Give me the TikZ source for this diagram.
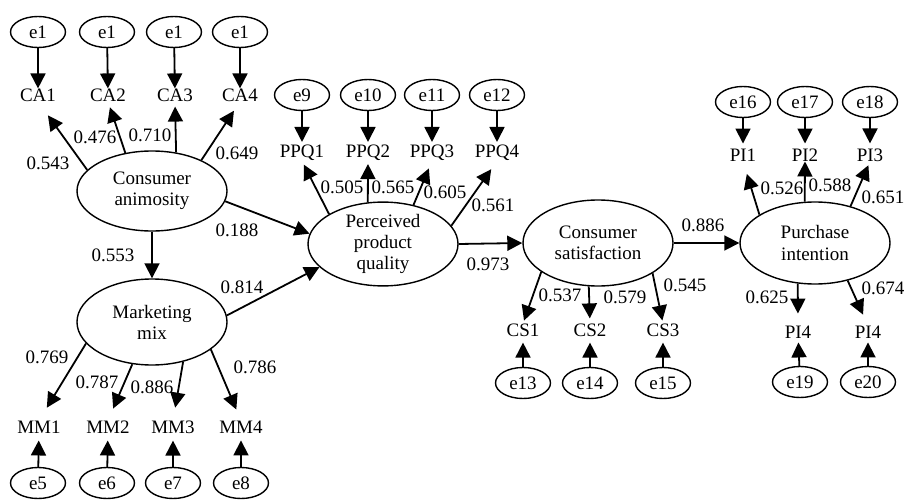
\documentclass[tikz,border=0pt]{standalone}
\usepackage{fontspec}
\setmainfont{Liberation Serif}
\usetikzlibrary{shapes.geometric,arrows.meta}
\begin{document}
\begin{tikzpicture}[x=1pt,y=-1pt,
  font=\fontsize{19}{21}\selectfont,
  lat/.style={ellipse,draw,line width=1.4pt,minimum width=150pt,minimum height=82pt,inner sep=0pt,align=center},
  err/.style={ellipse,draw,line width=1.4pt,minimum width=55pt,minimum height=31pt,inner sep=0pt},
  obs/.style={inner sep=0pt},
  coef/.style={inner sep=0pt},
  arr/.style={-{Triangle[length=15pt,width=15pt]},line width=1.8pt}]
\useasboundingbox (0,0) rectangle (905,500);

% ---------- latent variables ----------
\node[lat,minimum height=80pt] (ca) at (152,191) {Consumer\\animosity};
\node[lat,minimum height=86pt] (mm) at (152,322) {Marketing\\mix};
\node[lat] (ppq) at (383,244) {Perceived\\product\\quality};
\node[lat,minimum height=86pt] (cs) at (598,243) {Consumer\\satisfaction};
\node[lat] (pi) at (815,243) {Purchase\\intention};

% ---------- Consumer animosity ----------
\node[err] (e1a) at (38,32) {e1};
\node[err] (e1b) at (107,32) {e1};
\node[err] (e1c) at (174,32) {e1};
\node[err] (e1d) at (240,32) {e1};
\node[obs] (CA1) at (38,95) {CA1};
\node[obs] (CA2) at (108,95) {CA2};
\node[obs] (CA3) at (175,95) {CA3};
\node[obs] (CA4) at (240,95) {CA4};
\draw[arr] (e1a) -- (CA1);
\draw[arr] (e1b) -- (CA2);
\draw[arr] (e1c) -- (CA3);
\draw[arr] (e1d) -- (CA4);
\draw[arr,shorten >=17pt] (ca.162) -- (CA1.south);
\draw[arr,shorten >=6pt] (ca.125) -- (CA2.south);
\draw[arr,shorten >=5pt] (ca.58) -- (CA3.south);
\draw[arr,shorten >=11pt] (ca.32) -- (CA4.south);
\node[coef] (c543) at (48,163) {0.543};
\node[coef] (c476) at (95,137) {0.476};
\node[coef] (c710) at (150,135) {0.710};
\node[coef] (c649) at (237,153) {0.649};

% ---------- Marketing mix ----------
\draw[arr] (ca) -- (mm);
\node[coef] (c553) at (113,255) {0.553};
\node[obs] (MM1) at (39,427) {MM1};
\node[obs] (MM2) at (108,427) {MM2};
\node[obs] (MM3) at (173,427) {MM3};
\node[obs] (MM4) at (241,427) {MM4};
\draw[arr,shorten >=15pt] (mm.198) -- (MM1.north);
\draw[arr,shorten >=13pt] (mm.245) -- (MM2.north);
\draw[arr,shorten >=13pt] (mm.308) -- (MM3.north);
\draw[arr,shorten >=12pt] (mm.335) -- (MM4.north);
\node[coef] (c769) at (47,357) {0.769};
\node[coef] (c787) at (97,382) {0.787};
\node[coef] (c886a) at (152,387) {0.886};
\node[coef] (c786) at (255,367) {0.786};
\node[err] (e5) at (38,483) {e5};
\node[err] (e6) at (107,483) {e6};
\node[err] (e7) at (173,483) {e7};
\node[err] (e8) at (241,483) {e8};
\draw[arr,shorten >=7pt] (e5) -- (MM1);
\draw[arr,shorten >=7pt] (e6) -- (MM2);
\draw[arr,shorten >=7pt] (e7) -- (MM3);
\draw[arr,shorten >=7pt] (e8) -- (MM4);

% ---------- structural paths ----------
\draw[arr] (ca.352) -- (ppq.172);
\node[coef] (c188) at (237,230) {0.188};
\draw[arr] (mm.5) -- (ppq.200);
\node[coef] (c814) at (242,287) {0.814};
\draw[arr] (ppq.east) -- (cs.west);
\node[coef] (c973) at (488,264) {0.973};
\draw[arr] (cs.east) -- (pi.west);
\node[coef] (c886b) at (703,225) {0.886};

% ---------- Perceived product quality ----------
\node[err] (e9) at (302,95) {e9};
\node[err] (e10) at (368,95) {e10};
\node[err] (e11) at (432,95) {e11};
\node[err] (e12) at (497,95) {e12};
\node[obs] (PPQ1) at (302,153) {PPQ1};
\node[obs] (PPQ2) at (368,153) {PPQ2};
\node[obs] (PPQ3) at (432,153) {PPQ3};
\node[obs] (PPQ4) at (497,153) {PPQ4};
\draw[arr,shorten >=3pt] (e9) -- (PPQ1);
\draw[arr,shorten >=3pt] (e10) -- (PPQ2);
\draw[arr,shorten >=3pt] (e11) -- (PPQ3);
\draw[arr,shorten >=3pt] (e12) -- (PPQ4);
\draw[arr,shorten >=4pt] (ppq.151) -- (PPQ1.south);
\draw[arr,shorten >=3pt] (ppq.110) -- (PPQ2.south);
\draw[arr,shorten >=8pt] (ppq.52) -- (PPQ3.south);
\draw[arr,shorten >=10pt] (ppq.15) -- (PPQ4.south);
\node[coef] (c505) at (342,187) {0.505};
\node[coef] (c565) at (393,187) {0.565};
\node[coef] (c605) at (445,192) {0.605};
\node[coef] (c561) at (493,205) {0.561};

% ---------- Consumer satisfaction ----------
\node[obs] (CS1) at (523,330) {CS1};
\node[obs] (CS2) at (590,330) {CS2};
\node[obs] (CS3) at (663,330) {CS3};
\draw[arr,shorten >=3pt] (cs.207) -- (CS1.north);
\draw[arr,shorten >=5pt] (cs.258) -- (CS2.north);
\draw[arr,shorten >=3pt] (cs.331) -- (CS3.north);
\node[coef] (c537) at (560,295) {0.537};
\node[coef] (c579) at (625,297) {0.579};
\node[coef] (c545) at (685,285) {0.545};
\node[err] (e13) at (523,383) {e13};
\node[err] (e14) at (590,383) {e14};
\node[err] (e15) at (663,383) {e15};
\draw[arr,shorten >=6pt] (e13) -- (CS1);
\draw[arr,shorten >=6pt] (e14) -- (CS2);
\draw[arr,shorten >=6pt] (e15) -- (CS3);

% ---------- Purchase intention ----------
\node[err] (e16) at (743,102) {e16};
\node[err] (e17) at (805,102) {e17};
\node[err] (e18) at (870,102) {e18};
\node[obs] (PI1) at (743,155) {PI1};
\node[obs] (PI2) at (805,155) {PI2};
\node[obs] (PI3) at (870,155) {PI3};
\draw[arr,shorten >=5pt] (e16) -- (PI1);
\draw[arr,shorten >=5pt] (e17) -- (PI2);
\draw[arr,shorten >=5pt] (e18) -- (PI3);
\draw[arr,shorten >=13pt] (pi.153) -- (PI1.south);
\draw[arr] (pi.104) -- (PI2.south);
\draw[arr,shorten >=4pt] (pi.46) -- (PI3.south);
\node[coef] (c526) at (782,188) {0.526};
\node[coef] (c588) at (830,185) {0.588};
\node[coef] (c651) at (883,197) {0.651};
\node[obs] (PI4a) at (798,332) {PI4};
\node[obs] (PI4b) at (868,332) {PI4};
\draw[arr,shorten >=12pt] (pi.247) -- (PI4a.north);
\draw[arr,shorten >=12pt] (pi.311) -- (PI4b.north);
\node[coef] (c625) at (767,297) {0.625};
\node[coef] (c674) at (883,288) {0.674};
\node[err] (e19) at (800,382) {e19};
\node[err] (e20) at (868,382) {e20};
\draw[arr,shorten >=4pt] (e19) -- (PI4a);
\draw[arr,shorten >=4pt] (e20) -- (PI4b);
\end{tikzpicture}
\end{document}
